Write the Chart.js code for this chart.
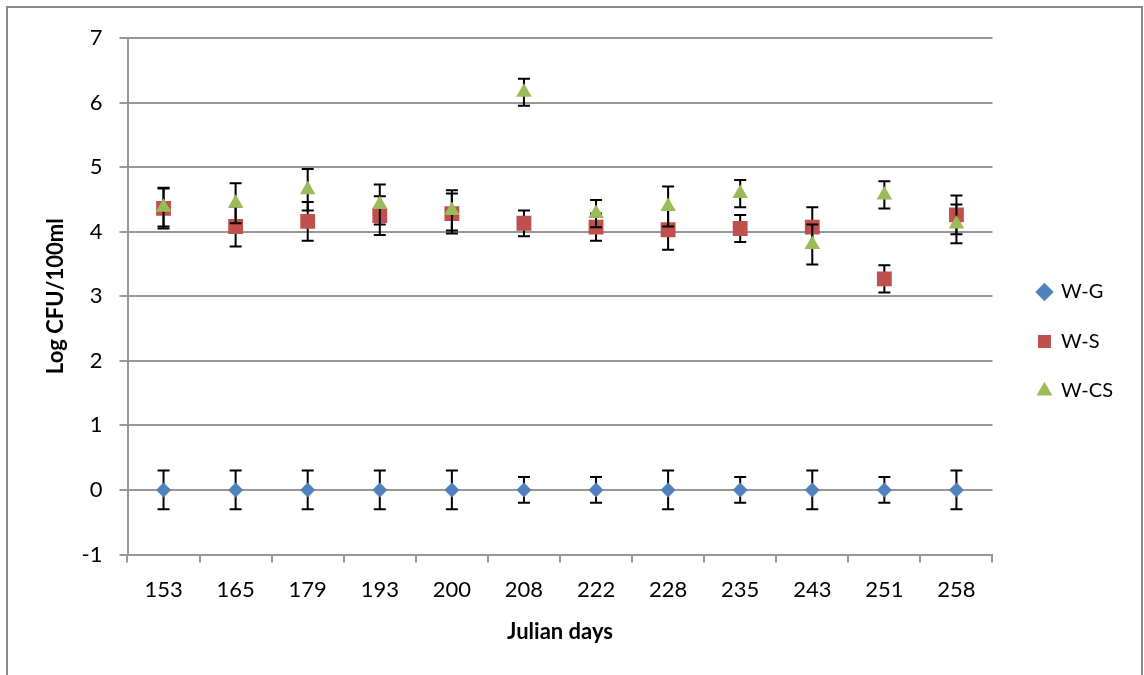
<!DOCTYPE html>
<html>
<head>
<meta charset="utf-8">
<script src="https://cdn.jsdelivr.net/npm/chart.js@4/dist/chart.umd.min.js"></script>
<style>
	body { margin: 0; background: #fff; }
	.wrap { position: relative; width: 1144px; height: 675px; }
	.frame { position: absolute; left: 6px; top: 6px; width: 1137px; height: 700px; box-sizing: border-box; border: 2px solid #8a8a8a; border-bottom: none; pointer-events: none; }
</style>
</head>
<body>
<div class="wrap">
	<canvas class="cfu-chart"></canvas>
	<div class="frame"></div>
</div>
<script>
let days = ['153', '165', '179', '193', '200', '208', '222', '228', '235', '243', '251', '258']

let wG = [0, 0, 0, 0, 0, 0, 0, 0, 0, 0, 0, 0]
let wGErr = [0.3, 0.3, 0.3, 0.3, 0.3, 0.2, 0.2, 0.3, 0.2, 0.3, 0.2, 0.3]

let wS = [4.36, 4.08, 4.16, 4.25, 4.28, 4.13, 4.07, 4.03, 4.05, 4.07, 3.27, 4.26]
let wSErr = [0.31, 0.31, 0.3, 0.3, 0.31, 0.2, 0.21, 0.31, 0.21, 0.31, 0.21, 0.3]

let wCS = [4.38, 4.44, 4.65, 4.42, 4.33, 6.16, 4.28, 4.39, 4.59, 3.8, 4.57, 4.12]
let wCSErr = [0.3, 0.31, 0.32, 0.31, 0.31, 0.21, 0.21, 0.31, 0.21, 0.31, 0.21, 0.3]

let gridGray = '#979797'

// black error bars, drawn under each series' markers (like excel)
let errorBars = {
	id: 'errorBars',
	beforeDatasetDraw(chart, args) {
		let ds = chart.data.datasets[args.index]
		if (!ds.errors) return
		let ctx = chart.ctx
		let y = chart.scales.y
		ctx.save()
		ctx.strokeStyle = '#000'
		ctx.lineWidth = 2
		args.meta.data.forEach(function (pt, i) {
			let top = y.getPixelForValue(ds.data[i] + ds.errors[i])
			let bot = y.getPixelForValue(ds.data[i] - ds.errors[i])
			ctx.beginPath()
			ctx.moveTo(pt.x, top)
			ctx.lineTo(pt.x, bot)
			ctx.moveTo(pt.x - 6, top)
			ctx.lineTo(pt.x + 6, top)
			ctx.moveTo(pt.x - 6, bot)
			ctx.lineTo(pt.x + 6, bot)
			ctx.stroke()
		})
		ctx.restore()
	},
}

Chart.defaults.font.family = 'Lato'
Chart.defaults.color = '#000'

let canvas = document.querySelector('.cfu-chart')

let chart = new Chart(canvas, {
	type: 'line',
	data: {
		labels: days,
		datasets: [
			{
				label: 'W-G',
				data: wG,
				errors: wGErr,
				showLine: false,
				pointStyle: 'rectRot',
				pointRadius: 7.5,
				backgroundColor: '#4F81BD',
				borderColor: '#4F81BD',
				borderWidth: 0,
				order: 2,
			},
			{
				label: 'W-S',
				data: wS,
				errors: wSErr,
				showLine: false,
				pointStyle: 'rect',
				pointRadius: 10.5,
				backgroundColor: '#C0504D',
				borderColor: '#C0504D',
				borderWidth: 0,
				order: 1,
			},
			{
				label: 'W-CS',
				data: wCS,
				errors: wCSErr,
				showLine: false,
				pointStyle: 'triangle',
				pointRadius: 9,
				backgroundColor: '#9BBB59',
				borderColor: '#9BBB59',
				borderWidth: 0,
				order: 0,
			},
		],
	},
	options: {
		responsive: true,
		maintainAspectRatio: false,
		animation: false,
		layout: {
			padding: { left: 43, top: 38, right: 21, bottom: 30 },
		},
		scales: {
			x: {
				offset: true,
				afterFit: function (scale) {
					scale.height = 90.5
				},
				grid: {
					offset: true,
					drawOnChartArea: false,
					drawTicks: true,
					tickLength: 8,
					color: gridGray,
					lineWidth: 2,
				},
				border: { color: gridGray, width: 2 },
				ticks: { font: { size: 22 }, padding: 14, maxRotation: 0 },
				title: {
					display: true,
					text: 'Julian days',
					font: { size: 22, weight: 'bold' },
					padding: 0,
				},
			},
			y: {
				min: -1,
				max: 7,
				afterFit: function (scale) {
					scale.width = 84.5
				},
				grid: {
					color: gridGray,
					lineWidth: 2,
					tickLength: 8,
				},
				border: { color: gridGray, width: 2 },
				ticks: { stepSize: 1, font: { size: 22 }, padding: 17 },
				title: {
					display: true,
					text: 'Log CFU/100ml',
					font: { size: 22, weight: 'bold' },
					padding: 0,
				},
			},
			// empty spacer between plot and legend
			gap: {
				type: 'linear',
				position: 'right',
				min: 0,
				max: 1,
				afterFit: function (scale) {
					scale.width = 16
				},
				grid: { display: false },
				border: { display: false },
				ticks: { display: false },
			},
		},
		plugins: {
			legend: {
				position: 'right',
				labels: {
					usePointStyle: true,
					boxWidth: 13,
					boxHeight: 13,
					padding: 29.5,
					font: { size: 20 },
					sort: function (a, b) {
						return a.datasetIndex - b.datasetIndex
					},
				},
			},
			tooltip: { enabled: false },
		},
	},
	plugins: [errorBars],
})
</script>
</body>
</html>
